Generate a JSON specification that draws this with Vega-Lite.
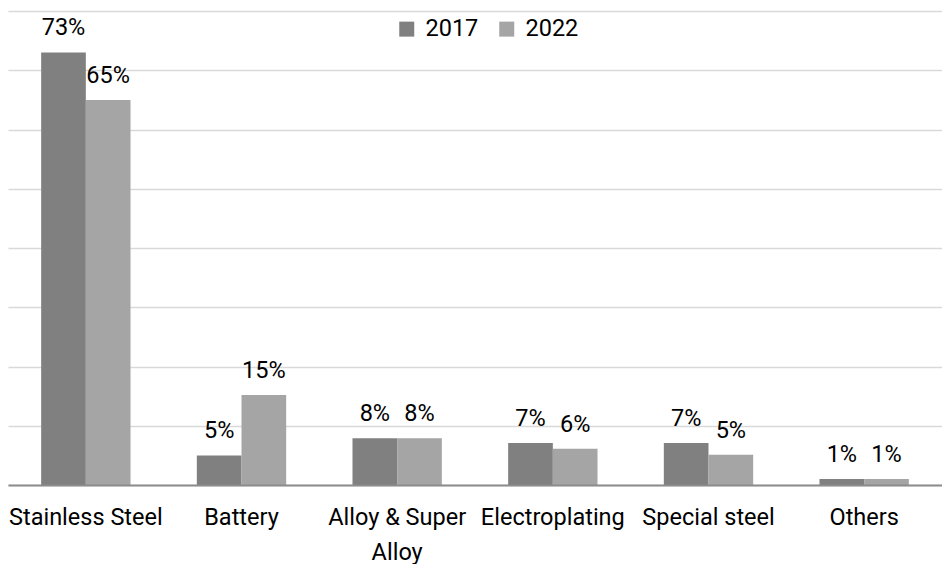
{
  "$schema": "https://vega.github.io/schema/vega-lite/v6.json",
  "width": 934,
  "height": 474,
  "padding": {"left": 8, "top": 11, "right": 0, "bottom": 0},
  "config": {
    "view": {"stroke": null},
    "font": "Roboto",
    "text": {"font": "Roboto"}
  },
  "data": {
    "values": [
      {"category": "Stainless Steel", "year": "2017", "value": 0.73},
      {"category": "Stainless Steel", "year": "2022", "value": 0.65},
      {"category": "Battery", "year": "2017", "value": 0.05},
      {"category": "Battery", "year": "2022", "value": 0.152},
      {"category": "Alloy & Super Alloy", "year": "2017", "value": 0.079},
      {"category": "Alloy & Super Alloy", "year": "2022", "value": 0.079},
      {"category": "Electroplating", "year": "2017", "value": 0.071},
      {"category": "Electroplating", "year": "2022", "value": 0.061},
      {"category": "Special steel", "year": "2017", "value": 0.071},
      {"category": "Special steel", "year": "2022", "value": 0.051},
      {"category": "Others", "year": "2017", "value": 0.01},
      {"category": "Others", "year": "2022", "value": 0.01}
    ]
  },
  "encoding": {
    "x": {
      "field": "category",
      "type": "nominal",
      "sort": null,
      "scale": {"paddingInner": 0.426, "paddingOuter": 0.213},
      "axis": {
        "title": null,
        "labelAngle": 0,
        "labelFontSize": 23.5,
        "labelColor": "#000000",
        "labelPadding": 20,
        "labelLineHeight": 35,
        "ticks": false,
        "domainColor": "#8c8c8c",
        "domainWidth": 2,
        "zindex": 1,
        "labelExpr": "datum.label == 'Alloy & Super Alloy' ? ['Alloy & Super', 'Alloy'] : datum.label"
      }
    },
    "xOffset": {"field": "year", "type": "nominal"},
    "y": {
      "field": "value",
      "type": "quantitative",
      "scale": {"domain": [0, 0.8]},
      "axis": {
        "title": null,
        "labels": false,
        "ticks": false,
        "domain": false,
        "grid": true,
        "gridColor": "#d9d9d9",
        "gridWidth": 1.5,
        "values": [0, 0.1, 0.2, 0.3, 0.4, 0.5, 0.6, 0.7, 0.8]
      }
    }
  },
  "layer": [
    {
      "mark": {"type": "bar"},
      "encoding": {
        "color": {
          "field": "year",
          "type": "nominal",
          "scale": {"range": ["#808080", "#a5a5a5"]},
          "legend": {
            "title": null,
            "orient": "none",
            "direction": "horizontal",
            "legendX": 387,
            "legendY": 6,
            "symbolType": "square",
            "symbolSize": 225,
            "symbolStrokeWidth": 0,
            "labelFontSize": 23.5,
            "labelColor": "#000000",
            "labelOffset": 7,
            "columnPadding": 16
          }
        }
      }
    },
    {
      "mark": {"type": "text", "fontSize": 23.5, "color": "#000000", "baseline": "alphabetic", "dy": -17},
      "encoding": {
        "text": {"field": "value", "type": "quantitative", "format": ".0%"}
      }
    }
  ]
}
